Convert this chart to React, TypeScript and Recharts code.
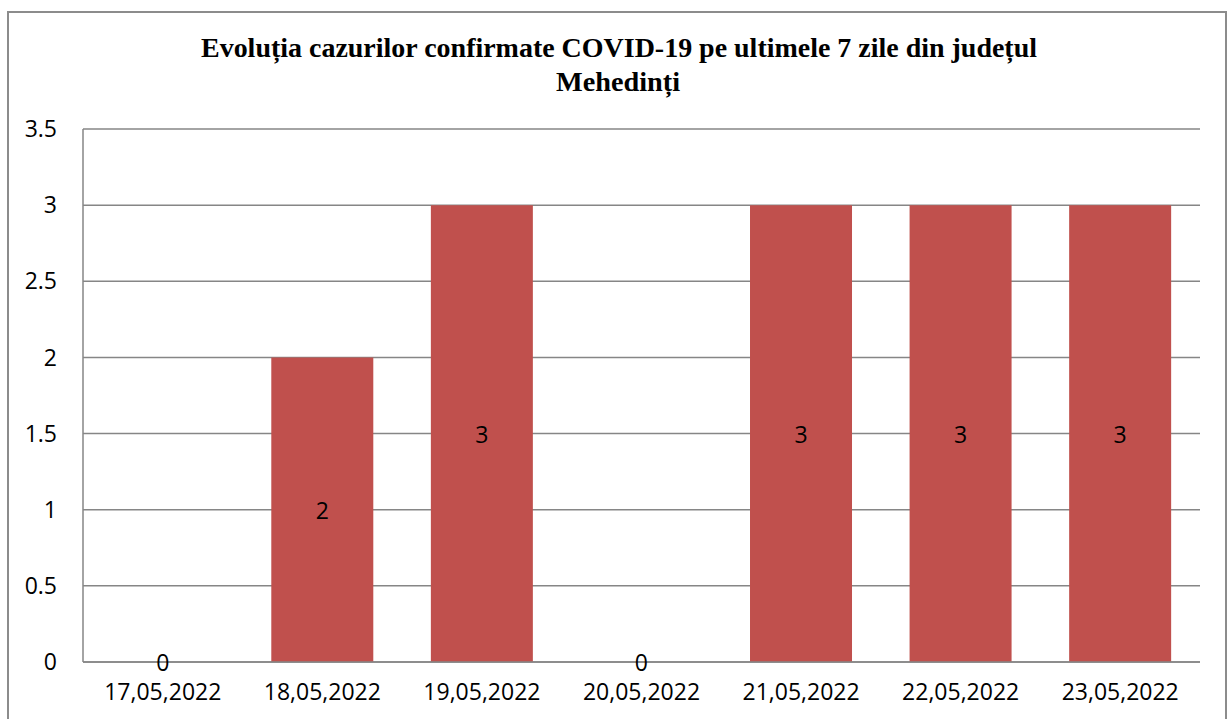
import { BarChart, Bar, XAxis, YAxis, CartesianGrid, LabelList, Cell } from "recharts";

const dates = [
  "17,05,2022",
  "18,05,2022",
  "19,05,2022",
  "20,05,2022",
  "21,05,2022",
  "22,05,2022",
  "23,05,2022",
];
const cases = [0, 2, 3, 0, 3, 3, 3];
const yTicks = [0, 0.5, 1, 1.5, 2, 2.5, 3, 3.5];
const titleLines = [
  "Evoluția cazurilor confirmate COVID-19 pe ultimele 7 zile din județul",
  "Mehedinți",
];

const data = dates.map((d, i) => ({ date: d, value: cases[i] }));

const FONT = "'Open Sans', sans-serif";
const BAR_COLOR = "#C0504D";

// draws the value in the middle of the bar, also for the empty days
function CenterLabel(props: any) {
  const { x, y, width, height, value } = props;
  if (x == null || y == null) return null;
  const cx = Number(x) + Number(width) / 2;
  const cy = Number(y) + (Number(height) || 0) / 2;
  return (
    <text
      x={cx}
      y={cy}
      textAnchor="middle"
      dominantBaseline="central"
      fill="#000"
      fontSize={23}
      fontFamily={FONT}
    >
      {value}
    </text>
  );
}

export default function App() {
  return (
    <div style={{ position: "absolute", left: 0, top: 0, width: 1229, height: 719, background: "#fff", overflow: "hidden" }}>
      <div
        style={{
          position: "absolute",
          left: 7,
          top: 11,
          width: 1216,
          height: 740,
          border: "2px solid #8c8c8c",
        }}
      />
      <svg style={{ position: "absolute", left: 0, top: 0 }} width={1229} height={110}>
        <text
          x={619}
          y={57}
          textAnchor="middle"
          fontFamily="'Liberation Serif', serif"
          fontWeight="bold"
          fontSize={27}
          textLength={836}
          lengthAdjust="spacingAndGlyphs"
        >
          {titleLines[0]}
        </text>
        <text
          x={618}
          y={91}
          textAnchor="middle"
          fontFamily="'Liberation Serif', serif"
          fontWeight="bold"
          fontSize={27}
          textLength={124}
          lengthAdjust="spacingAndGlyphs"
        >
          {titleLines[1]}
        </text>
      </svg>
      <div style={{ position: "absolute", left: 0, top: 0 }}>
        <BarChart
          width={1229}
          height={719}
          data={data}
          margin={{ top: 129, right: 29, left: 0, bottom: 0 }}
          barCategoryGap="18%"
        >
          <CartesianGrid vertical={false} stroke="#868686" strokeWidth={1.5} />
          <XAxis
            dataKey="date"
            height={57}
            tickLine={false}
            tickSize={0}
            tickMargin={22}
            axisLine={{ stroke: "#868686", strokeWidth: 1.5 }}
            tick={{ fill: "#000", fontSize: 23, fontFamily: FONT }}
            interval={0}
          />
          <YAxis
            width={83}
            domain={[0, 3.5]}
            ticks={yTicks}
            tickLine={false}
            tickSize={0}
            tickMargin={26}
            axisLine={{ stroke: "#868686", strokeWidth: 1.5 }}
            tick={{ fill: "#000", fontSize: 23, fontFamily: FONT }}
          />
          <Bar dataKey="value" fill={BAR_COLOR} minPointSize={1} isAnimationActive={false}>
            {data.map((d) => (
              <Cell key={d.date} fill={d.value === 0 ? "transparent" : BAR_COLOR} />
            ))}
            <LabelList dataKey="value" content={CenterLabel} />
          </Bar>
        </BarChart>
      </div>
    </div>
  );
}
